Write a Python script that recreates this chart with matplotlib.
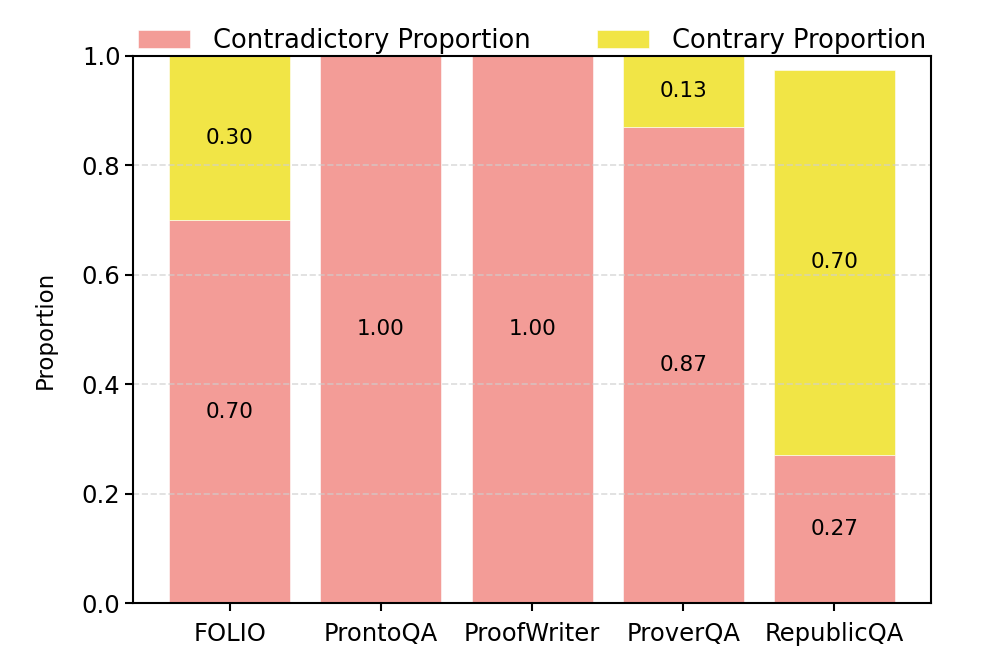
import matplotlib
matplotlib.use("Agg")
import matplotlib.pyplot as plt
import numpy as np

datasets = ["FOLIO", "ProntoQA", "ProofWriter", "ProverQA", "RepublicQA"]
contradictory = [0.70, 1.00, 1.00, 0.87, 0.27]
contrary = [0.30, 0.00, 0.00, 0.13, 0.705]
series_names = ["Contradictory Proportion", "Contrary Proportion"]
yticks = [0.0, 0.2, 0.4, 0.6, 0.8, 1.0]

plt.rcParams['font.family'] = ['DejaVu Sans']

fig = plt.figure(figsize=(9.97, 6.68), dpi=100)
ax = fig.add_axes([0.1334, 0.0973, 0.8006, 0.819])

x = np.arange(len(datasets))
pink = "#F39C97"
yellow = "#F1E546"
ax.bar(x, contradictory, width=0.8, color=pink, edgecolor="white", linewidth=0.4,
       label=series_names[0], zorder=1)
ax.bar(x, contrary, width=0.8, bottom=contradictory, color=yellow, edgecolor="white",
       linewidth=0.4, label=series_names[1], zorder=1)

for xi, c, d in zip(x, contradictory, contrary):
    if c > 0:
        ax.text(xi, c / 2, f"{c:.2f}", ha="center", va="center", fontsize=15.5, zorder=3)
    if d > 0:
        ax.text(xi, c + d / 2, f"{d:.2f}", ha="center", va="center", fontsize=15.5, zorder=3)

ax.set_ylim(0, 1.0)
ax.set_yticks(yticks)
ax.set_yticklabels([f"{t:.1f}" for t in yticks])
ax.set_xticks(x)
ax.set_xticklabels(datasets)
ax.tick_params(axis="both", labelsize=17.5, direction="out", length=5.5, width=1.5)
ax.tick_params(axis="x", pad=8)
ax.set_ylabel("Proportion", fontsize=16.5, labelpad=18)

ax.yaxis.grid(True, linestyle="--", color="#cfcfcf", alpha=0.7, linewidth=1.2, zorder=2)
ax.set_axisbelow(False)
for s in ax.spines.values():
    s.set_linewidth(1.5)
    s.set_zorder(4)

ax.legend(loc="lower center", bbox_to_anchor=(0.5, 0.985), ncol=2, frameon=False,
          fontsize=18.5, handlelength=2.0, columnspacing=2.6, borderaxespad=0.0,
          handletextpad=0.9)

fig.savefig("out.png", dpi=100)
